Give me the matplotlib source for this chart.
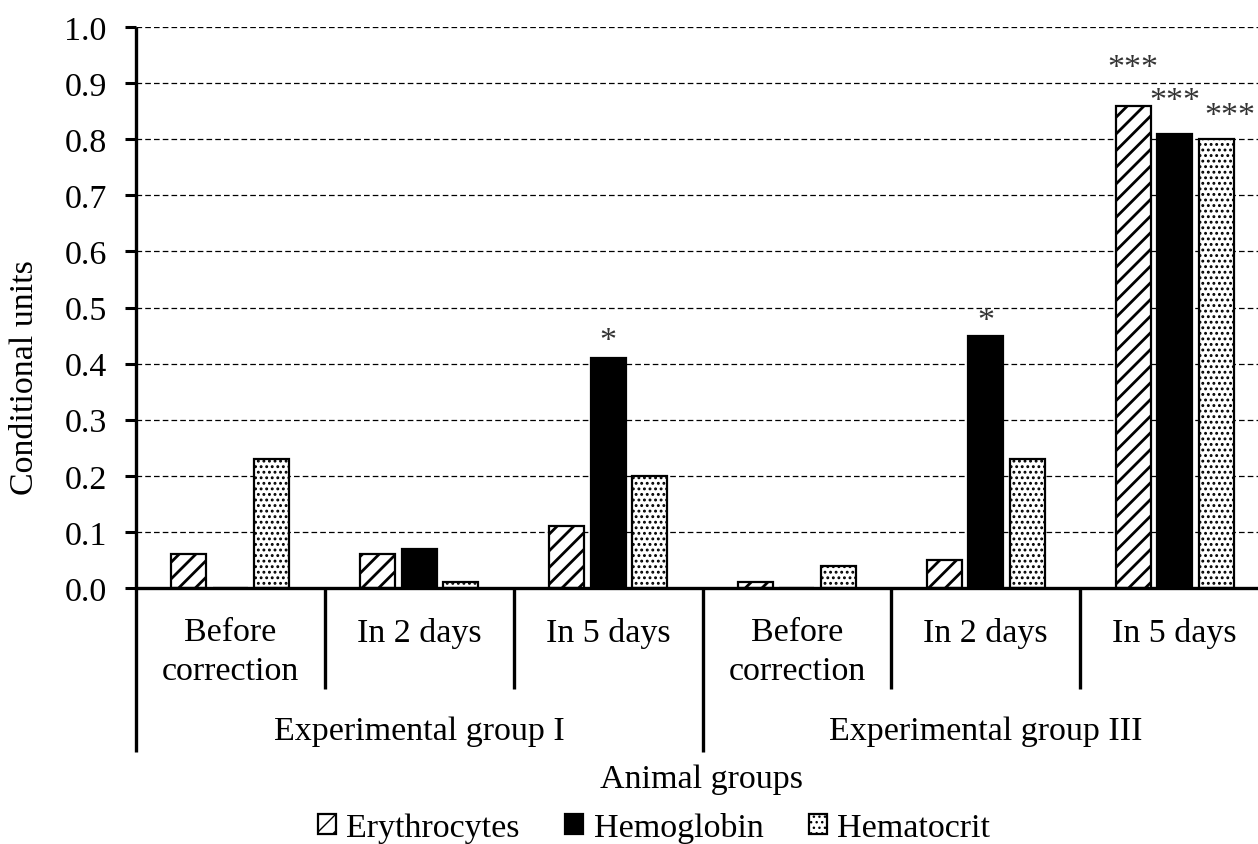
import numpy as np
import matplotlib
matplotlib.use("Agg")
import matplotlib.pyplot as plt
import matplotlib.transforms as mtransforms
from matplotlib.patches import Patch

plt.rcParams['font.family'] = ['Liberation Serif', 'DejaVu Serif']

# ---- data ----
categories = ["Before\ncorrection", "In 2 days", "In 5 days",
              "Before\ncorrection", "In 2 days", "In 5 days"]
groups = ["Experimental group I", "Experimental group III"]
series_names = ["Erythrocytes", "Hemoglobin", "Hematocrit"]
erythrocytes = [0.06, 0.06, 0.11, 0.01, 0.05, 0.86]
hemoglobin = [0.00, 0.07, 0.41, 0.00, 0.45, 0.81]
hematocrit = [0.23, 0.01, 0.20, 0.04, 0.23, 0.80]
# significance marks: (category index, series index, label, y position)
marks = [(2, 1, "*", 0.441), (4, 1, "*", 0.477),
         (5, 0, "***", 0.927), (5, 1, "***", 0.868), (5, 2, "***", 0.841)]
yticks = [0.0, 0.1, 0.2, 0.3, 0.4, 0.5, 0.6, 0.7, 0.8, 0.9, 1.0]

W, H = 1258, 845
fig = plt.figure(figsize=(W / 100, H / 100), dpi=100)
ax = fig.add_axes([136 / W, (H - 589) / H, 1133 / W, 561 / H])
ax.set_xlim(0, 6)
ax.set_ylim(0, 1.0)

FS = 24.5
x = np.arange(len(categories)) + 0.5
off = 0.22
bw = 0.185
series = [erythrocytes, hemoglobin, hematocrit]
styles = [dict(facecolor="white", hatch="//", hlw=2.0),
          dict(facecolor="black", hatch=None, hlw=1.0),
          dict(facecolor="white", hatch="...", hlw=1.3)]

# grid
for t in yticks[1:]:
    ax.axhline(t, color="black", lw=0.9, ls=(0, (4.5, 2.5)), zorder=0)

for i, (vals, st) in enumerate(zip(series, styles)):
    with plt.rc_context({'hatch.linewidth': st['hlw'], 'hatch.color': 'black'}):
        ax.bar(x + (i - 1) * off, vals, width=bw, facecolor=st['facecolor'],
               edgecolor="black", linewidth=1.6, hatch=st['hatch'], zorder=3)

for ci, si, lab, yv in marks:
    dx = 0.07 if lab == "***" and si == 2 else 0
    ax.text(x[ci] + (si - 1) * off + dx, yv, lab, ha="center", va="center",
            fontsize=FS, color="#333333")

# spines
for s in ["top", "right", "bottom", "left"]:
    ax.spines[s].set_visible(False)
ax.axhline(0, color="black", lw=2.4, zorder=5, clip_on=False)

trans = mtransforms.blended_transform_factory(ax.transData, ax.transAxes)
y_cat = -(690 - 589) / 561
y_grp = -(753 - 589) / 561
# left axis line extended downward
ax.plot([0, 0], [1.0, y_grp], transform=trans, color="black", lw=2.4,
        clip_on=False, zorder=5, solid_capstyle="butt")
for xs in [1, 2, 4, 5]:
    ax.plot([xs, xs], [0, y_cat], transform=trans, color="black", lw=2.4,
            clip_on=False, solid_capstyle="butt")
ax.plot([3, 3], [0, y_grp], transform=trans, color="black", lw=2.4,
        clip_on=False, solid_capstyle="butt")

ax.set_xticks([])
ax.set_yticks(yticks)
ax.set_yticklabels([f"{t:.1f}" for t in yticks], fontsize=FS)
ax.tick_params(axis="y", direction="out", length=8, width=2.2, pad=13)

for xi, lab in zip(x, categories):
    ax.text(xi, -(618 - 589) / 561, lab, transform=trans, ha="center",
            va="top", fontsize=FS, linespacing=1.32)
for gi, g in enumerate(groups):
    ax.text(1.5 + 3 * gi, -(732 - 589) / 561, g, transform=trans,
            ha="center", va="center", fontsize=FS)

fig.text(702 / W, 1 - 780 / H, "Animal groups", ha="center", va="center",
         fontsize=FS)
fig.text(25 / W, 1 - 378 / H, "Conditional units", ha="center", va="center",
         rotation=90, fontsize=FS)

handles = []
for name, st in zip(series_names, styles):
    with plt.rc_context({'hatch.linewidth': st['hlw']}):
        handles.append(Patch(facecolor=st['facecolor'], edgecolor="black",
                             hatch=st['hatch'], linewidth=1.6, label=name))
fig.legend(handles=handles, loc="center", bbox_to_anchor=(654 / W, 1 - 829 / H),
           ncol=3, frameon=False, fontsize=FS, handlelength=0.53,
           handleheight=0.53, handletextpad=0.32, columnspacing=1.32,
           borderaxespad=0, borderpad=0)

fig.savefig("out.png", dpi=100)
